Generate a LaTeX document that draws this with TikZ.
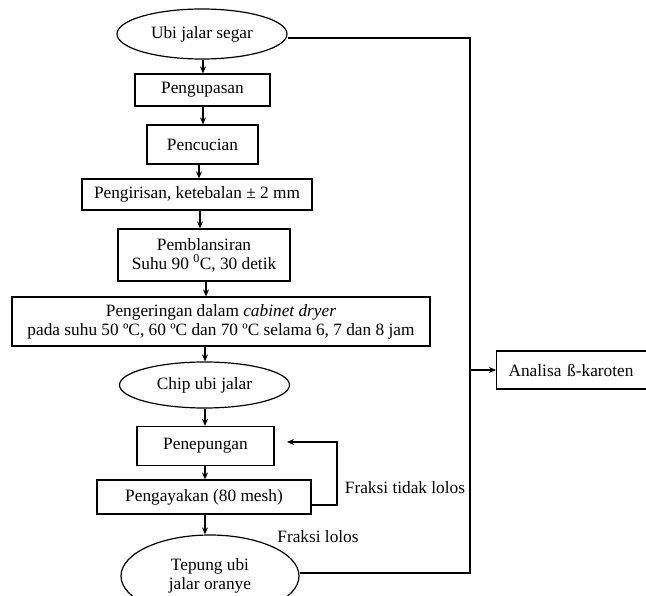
\documentclass[tikz,border=0pt]{standalone}
\usepackage{fontspec}
\setmainfont{Liberation Serif}
\usetikzlibrary{shapes.geometric,arrows.meta}
\begin{document}
\begin{tikzpicture}[x=1pt,y=-1pt,
  font=\fontsize{17.3}{19}\selectfont,
  line width=1.2pt,
  boxnode/.style={draw,rectangle,inner sep=0pt,align=center},
  ovalnode/.style={draw,ellipse,inner sep=0pt,align=center},
  arr/.style={-{Stealth[length=7pt,width=6pt]}},
  lbl/.style={inner sep=0pt}]
\useasboundingbox (0,0) rectangle (646,596);
\clip (0,0) rectangle (646,596);
\node[ovalnode,minimum width=170pt,minimum height=50pt] (e1) at (202,34) {Ubi jalar segar};
\node[boxnode,minimum width=135pt,minimum height=32pt] (b1) at (202.5,90) {Pengupasan};
\node[boxnode,minimum width=111pt,minimum height=39pt] (b2) at (202.5,144.5) {Pencucian};
\node[boxnode,minimum width=230pt,minimum height=31pt] (b3) at (197,194.5) {Pengirisan, ketebalan ± 2 mm};
\node[boxnode,minimum width=172pt,minimum height=52pt] (b4) at (204,255) {Pemblansiran\\Suhu 90 \textsuperscript{0}C, 30 detik};
\node[boxnode,minimum width=418pt,minimum height=49pt] (b5) at (221,321.5) {Pengeringan dalam \textit{cabinet dryer}\\pada suhu 50 ºC, 60 ºC dan 70 ºC selama 6, 7 dan 8 jam};
\node[ovalnode,minimum width=170pt,minimum height=46pt] (e2) at (204.5,385) {Chip ubi jalar};
\node[boxnode,minimum width=137pt,minimum height=39pt] (b6) at (205.5,446) {Penepungan};
\node[boxnode,minimum width=214pt,minimum height=34pt] (b7) at (204,497) {Pengayakan (80 mesh)};
\node[ovalnode,minimum width=178pt,minimum height=82pt] (e3) at (210,576) {Tepung ubi\\jalar oranye};
\node[boxnode,anchor=west,minimum height=38pt,text width=150pt,align=left,inner xsep=12pt] (b8) at (496,370) {Analisa ß-karoten};
\node[lbl] (l1) at (405,488) {Fraksi tidak lolos};
\node[lbl] (l2) at (318,537) {Fraksi lolos};
\coordinate (fbend) at (287,442);
\draw[arr] (e1.south -| 203,0) -- (b1.north -| 203,0);
\draw[arr] (b1.south -| 203,0) -- (b2.north -| 203,0);
\draw[arr] (b2.south -| 199,0) -- (b3.north -| 199,0);
\draw[arr] (b3.south -| 200,0) -- (b4.north -| 200,0);
\draw[arr] (b4.south -| 206,0) -- (b5.north -| 206,0);
\draw[arr] (b5.south -| 205,0) -- (e2.north -| 205,0);
\draw[arr] (e2.south -| 205,0) -- (b6.north -| 205,0);
\draw[arr] (b6.south -| 205,0) -- (b7.north -| 205,0);
\draw[arr] (b7.south -| 205,0) -- (e3.north -| 205,0);
\draw[arr] (b7.east |- 0,505) -| (337,442) -- (fbend);
\draw (e1.east |- 0,38) -- (470,38) -- (470,573) -- (e3.east |- 0,573);
\draw[arr] (470,370) -- (b8.west);
\end{tikzpicture}
\end{document}
